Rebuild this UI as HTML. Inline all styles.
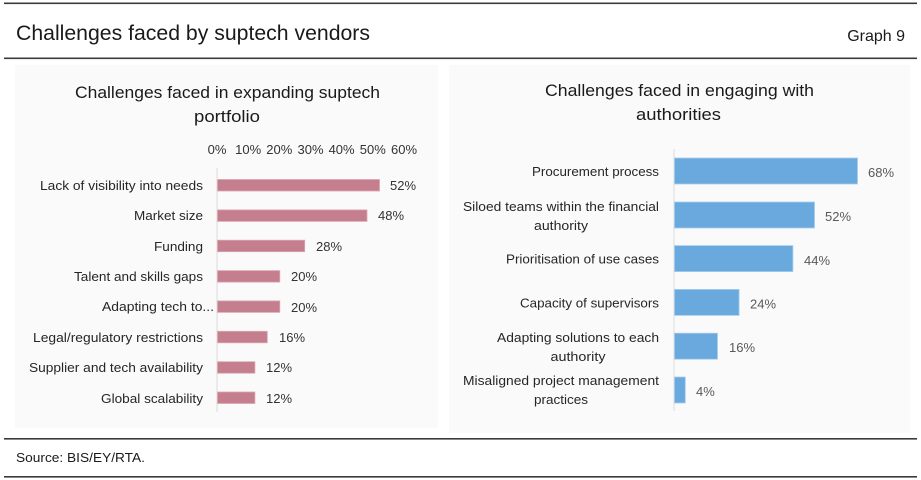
<!DOCTYPE html>
<html><head><meta charset="utf-8"><style>
html,body{margin:0;padding:0;background:#fff;}
svg{display:block;}
text{font-family:"Liberation Sans",Arial,sans-serif;}
</style></head><body>
<svg width="921" height="480" viewBox="0 0 921 480" xmlns="http://www.w3.org/2000/svg">
<rect width="921" height="480" fill="#fff"/>
<!-- rules -->
<rect x="4" y="2.5" width="913" height="1.6" fill="#3a3a3a"/>
<rect x="4" y="57.5" width="913" height="1.6" fill="#3a3a3a"/>
<rect x="4" y="438" width="913" height="1.6" fill="#3a3a3a"/>
<rect x="4" y="476" width="913" height="1.6" fill="#3a3a3a"/>
<text x="16" y="40" font-size="21" fill="#1a1a1a" textLength="354" lengthAdjust="spacingAndGlyphs">Challenges faced by suptech vendors</text>
<text x="905" y="41" font-size="16" fill="#1a1a1a" text-anchor="end">Graph 9</text>
<text x="16" y="462" font-size="13" fill="#1a1a1a" textLength="129" lengthAdjust="spacingAndGlyphs">Source: BIS/EY/RTA.</text>

<!-- panels -->
<rect x="15" y="65" width="423" height="363" fill="#fafafa"/>
<rect x="449" y="65" width="461" height="368" fill="#fafafa"/>

<!-- LEFT CHART -->
<g fill="#1a1a1a" font-size="17">
<text x="227.5" y="98" text-anchor="middle" textLength="305" lengthAdjust="spacingAndGlyphs">Challenges faced in expanding suptech</text>
<text x="227" y="122" text-anchor="middle" textLength="66" lengthAdjust="spacingAndGlyphs">portfolio</text>
</g>
<g fill="#333" font-size="13" text-anchor="middle">
<text x="217" y="154">0%</text>
<text x="248.2" y="154">10%</text>
<text x="279.3" y="154">20%</text>
<text x="310.5" y="154">30%</text>
<text x="341.6" y="154">40%</text>
<text x="372.8" y="154">50%</text>
<text x="404" y="154">60%</text>
</g>
<line x1="217" y1="168" x2="217" y2="412" stroke="#dcdcdc" stroke-width="1"/>
<g fill="#c47e8e" stroke="#dba7b2" stroke-width="0.8">
<rect x="217.5" y="179.5" width="162" height="11.5"/>
<rect x="217.5" y="209.9" width="149.5" height="11.5"/>
<rect x="217.5" y="240.2" width="87.2" height="11.5"/>
<rect x="217.5" y="270.6" width="62.3" height="11.5"/>
<rect x="217.5" y="300.9" width="62.3" height="11.5"/>
<rect x="217.5" y="331.3" width="49.8" height="11.5"/>
<rect x="217.5" y="361.7" width="37.4" height="11.5"/>
<rect x="217.5" y="392" width="37.4" height="11.5"/>
</g>
<g fill="#262626" font-size="13" text-anchor="end">
<text x="203" y="190" textLength="163" lengthAdjust="spacingAndGlyphs">Lack of visibility into needs</text>
<text x="203" y="220" textLength="69" lengthAdjust="spacingAndGlyphs">Market size</text>
<text x="203" y="251" textLength="49" lengthAdjust="spacingAndGlyphs">Funding</text>
<text x="203" y="281" textLength="129" lengthAdjust="spacingAndGlyphs">Talent and skills gaps</text>
<text x="214" y="311" textLength="112" lengthAdjust="spacingAndGlyphs">Adapting tech to...</text>
<text x="203" y="342" textLength="170" lengthAdjust="spacingAndGlyphs">Legal/regulatory restrictions</text>
<text x="203" y="372" textLength="174" lengthAdjust="spacingAndGlyphs">Supplier and tech availability</text>
<text x="203" y="403" textLength="102" lengthAdjust="spacingAndGlyphs">Global scalability</text>
</g>
<g fill="#333" font-size="13">
<text x="390" y="190">52%</text>
<text x="378" y="220">48%</text>
<text x="316" y="251">28%</text>
<text x="291" y="281">20%</text>
<text x="291" y="312">20%</text>
<text x="279" y="342">16%</text>
<text x="266" y="372">12%</text>
<text x="266" y="403">12%</text>
</g>

<!-- RIGHT CHART -->
<g fill="#1a1a1a" font-size="17">
<text x="679.5" y="96" text-anchor="middle" textLength="269" lengthAdjust="spacingAndGlyphs">Challenges faced in engaging with</text>
<text x="678.5" y="120" text-anchor="middle" textLength="85" lengthAdjust="spacingAndGlyphs">authorities</text>
</g>
<line x1="674" y1="149" x2="674" y2="411" stroke="#dcdcdc" stroke-width="1"/>
<g fill="#6aa9de" stroke="#a6cdee" stroke-width="0.8">
<rect x="674.5" y="158" width="183" height="26"/>
<rect x="674.5" y="202" width="140" height="26"/>
<rect x="674.5" y="245.6" width="118.4" height="26"/>
<rect x="674.5" y="289.4" width="64.6" height="26"/>
<rect x="674.5" y="333.2" width="43" height="26"/>
<rect x="674.5" y="377" width="10.8" height="26"/>
</g>
<g fill="#262626" font-size="13">
<text x="659" y="176" text-anchor="end" textLength="127" lengthAdjust="spacingAndGlyphs">Procurement process</text>
<text x="561" y="211" text-anchor="middle" textLength="196" lengthAdjust="spacingAndGlyphs">Siloed teams within the financial</text>
<text x="561" y="230" text-anchor="middle" textLength="54" lengthAdjust="spacingAndGlyphs">authority</text>
<text x="659" y="263.5" text-anchor="end" textLength="153" lengthAdjust="spacingAndGlyphs">Prioritisation of use cases</text>
<text x="659" y="307.5" text-anchor="end" textLength="139" lengthAdjust="spacingAndGlyphs">Capacity of supervisors</text>
<text x="578" y="342" text-anchor="middle" textLength="162" lengthAdjust="spacingAndGlyphs">Adapting solutions to each</text>
<text x="578" y="361" text-anchor="middle" textLength="55" lengthAdjust="spacingAndGlyphs">authority</text>
<text x="561" y="385" text-anchor="middle" textLength="196" lengthAdjust="spacingAndGlyphs">Misaligned project management</text>
<text x="561" y="404" text-anchor="middle" textLength="54" lengthAdjust="spacingAndGlyphs">practices</text>
</g>
<g fill="#595959" font-size="13">
<text x="868" y="177">68%</text>
<text x="825" y="221">52%</text>
<text x="804" y="265">44%</text>
<text x="750" y="308.5">24%</text>
<text x="729" y="352">16%</text>
<text x="696" y="396">4%</text>
</g>
</svg>
</body></html>
